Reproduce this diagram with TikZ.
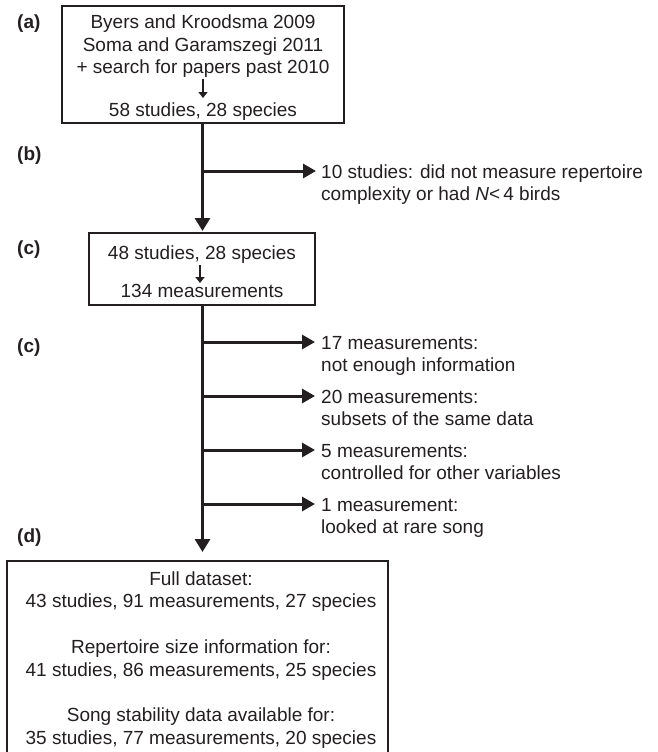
\documentclass[tikz,border=0pt]{standalone}
\usepackage{fontspec}
\setmainfont{Liberation Sans}
\usetikzlibrary{arrows.meta}
\definecolor{ink}{HTML}{231F20}
\begin{document}
\begin{tikzpicture}[x=1pt,y=-1pt,
  every node/.style={font=\fontsize{19}{23}\selectfont, text=ink, inner sep=0pt},
  boxframe/.style={draw=ink, line width=1.4pt},
  trunk/.style={draw=ink, line width=3pt},
  flow/.style={draw=ink, line width=3pt, -{Triangle[length=13pt,width=15pt]}},
  branch/.style={draw=ink, line width=3pt, -{Triangle[length=13pt,width=14pt]}},
  innerarrow/.style={draw=ink, line width=2pt, -{Triangle[length=6pt,width=9pt]}},
  tag/.style={font=\bfseries\fontsize{19}{23}\selectfont, anchor=base west},
  line/.style={anchor=base},
  noteline/.style={anchor=base west}]
\useasboundingbox (0,0) rectangle (657,752);

% stage labels
\node[tag] (la) at (17,29) {(a)};
\node[tag] (lb) at (17,160) {(b)};
\node[tag] (lc1) at (17,254) {(c)};
\node[tag] (lc2) at (17,352) {(c)};
\node[tag] (ld) at (17,542) {(d)};

% box a
\draw[boxframe] (62,6) rectangle (344,123);
\node[line] (a1) at (203,29) {Byers and Kroodsma 2009};
\node[line] (a2) at (203,51.5) {Soma and Garamszegi 2011};
\node[line] (a3) at (203,74) {+ search for papers past 2010};
\node[line] (a4) at (203,116) {58 studies, 28 species};
\coordinate (aarrs) at (203,79);
\coordinate (aarre) at (203,98);
\draw[innerarrow] (aarrs) -- (aarre);
\coordinate (abot) at (202.5,123);

% box c
\draw[boxframe] (89,233) rectangle (315,305);
\node[line] (c1) at (202,259) {48 studies, 28 species};
\node[line] (c2) at (202,297) {134 measurements};
\coordinate (carrs) at (200,265);
\coordinate (carre) at (200,283);
\draw[innerarrow] (carrs) -- (carre);
\coordinate (ctop) at (202.5,231);
\coordinate (cbot) at (202.5,305);

% box d
\draw[boxframe] (7,561) rectangle (388,770);
\node[line] (d1) at (201,585) {Full dataset:};
\node[line] (d2) at (201,607.7) {43 studies, 91 measurements, 27 species};
\node[line] (d3) at (201,653) {Repertoire size information for:};
\node[line] (d4) at (201,676) {41 studies, 86 measurements, 25 species};
\node[line] (d5) at (201,721.5) {Song stability data available for:};
\node[line] (d6) at (201,744) {35 studies, 77 measurements, 20 species};
\coordinate (dtop) at (202.5,552);

% trunk
\draw[flow] (abot) -- (ctop);
\draw[flow] (cbot) -- (dtop);

% branch points and tips
\coordinate (bb) at (202.5,171);
\coordinate (bt) at (316,171);
\coordinate (b1) at (202.5,342);
\coordinate (t1) at (315,342);
\coordinate (b2) at (202.5,396);
\coordinate (t2) at (315,396);
\coordinate (b3) at (202.5,450);
\coordinate (t3) at (315,450);
\coordinate (b4) at (202.5,504);
\coordinate (t4) at (315,504);

\draw[branch] (bb) -- (bt);
\draw[branch] (b1) -- (t1);
\draw[branch] (b2) -- (t2);
\draw[branch] (b3) -- (t3);
\draw[branch] (b4) -- (t4);

% notes
\node[noteline] (nb1) at (321,178) {10 studies: did not measure repertoire};
\node[noteline] (nb2) at (321,200.5) {complexity or had \textit{N}<\,4 birds};
\node[noteline] (n11) at (321,349) {17 measurements:};
\node[noteline] (n12) at (321,371.5) {not enough information};
\node[noteline] (n21) at (321,403) {20 measurements:};
\node[noteline] (n22) at (321,425.5) {subsets of the same data};
\node[noteline] (n31) at (321,457) {5 measurements:};
\node[noteline] (n32) at (321,479.5) {controlled for other variables};
\node[noteline] (n41) at (321,511) {1 measurement:};
\node[noteline] (n42) at (321,533.5) {looked at rare song};
\end{tikzpicture}
\end{document}
